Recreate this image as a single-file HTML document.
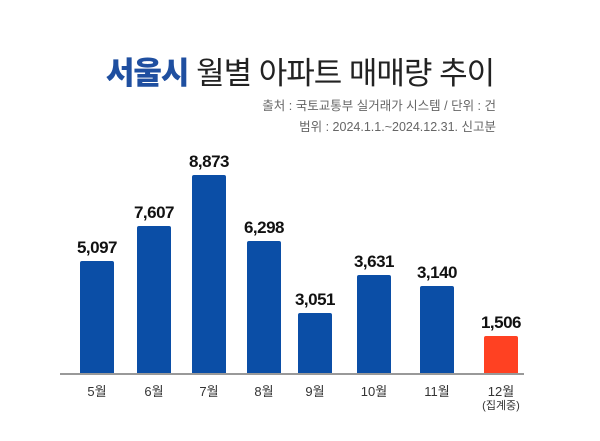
<!DOCTYPE html>
<html><head><meta charset="utf-8"><style>
body{margin:0;width:600px;height:441px;background:#fff;position:relative;overflow:hidden;font-family:"Liberation Sans","Noto Sans CJK KR",sans-serif}
.t{position:absolute;left:0;width:600px;text-align:center;top:48px;font-size:31px;color:#222;letter-spacing:-1px}
.t b{color:#1f4fa0;font-weight:900}
.s{position:absolute;right:104px;font-size:12.5px;color:#666;text-align:right}
.bar{position:absolute;width:34px;background:#0b4ea6;border-radius:2px 2px 0 0}
.v{position:absolute;width:80px;text-align:center;font-size:17px;font-weight:bold;color:#111;letter-spacing:-0.5px}
.m{position:absolute;width:60px;text-align:center;font-size:13px;color:#333;top:381px}
</style></head><body>
<div class="t"><b>서울시</b> 월별 아파트 매매량 추이</div>
<div class="s" style="top:95px">출처 : 국토교통부 실거래가 시스템 / 단위 : 건</div>
<div class="s" style="top:116px">범위 : 2024.1.1.~2024.12.31. 신고분</div>
<div style="position:absolute;left:60px;top:373px;width:464px;height:2px;background:#999"></div>

<div class="bar" style="left:80px;top:261px;height:112px"></div><div class="v" style="left:57px;top:238px">5,097</div><div class="m" style="left:67px">5월</div>
<div class="bar" style="left:137px;top:226px;height:147px"></div><div class="v" style="left:114px;top:203px">7,607</div><div class="m" style="left:124px">6월</div>
<div class="bar" style="left:192px;top:175px;height:198px"></div><div class="v" style="left:169px;top:152px">8,873</div><div class="m" style="left:179px">7월</div>
<div class="bar" style="left:247px;top:241px;height:132px"></div><div class="v" style="left:224px;top:218px">6,298</div><div class="m" style="left:234px">8월</div>
<div class="bar" style="left:298px;top:313px;height:60px"></div><div class="v" style="left:275px;top:290px">3,051</div><div class="m" style="left:285px">9월</div>
<div class="bar" style="left:357px;top:275px;height:98px"></div><div class="v" style="left:334px;top:252px">3,631</div><div class="m" style="left:344px">10월</div>
<div class="bar" style="left:420px;top:286px;height:87px"></div><div class="v" style="left:397px;top:263px">3,140</div><div class="m" style="left:407px">11월</div>
<div class="bar" style="left:484px;top:336px;height:37px;background:#ff4122"></div><div class="v" style="left:461px;top:313px">1,506</div><div class="m" style="left:471px">12월</div>
<div class="m" style="left:471px;top:397px;font-size:11px">(집계중)</div>
</body></html>
